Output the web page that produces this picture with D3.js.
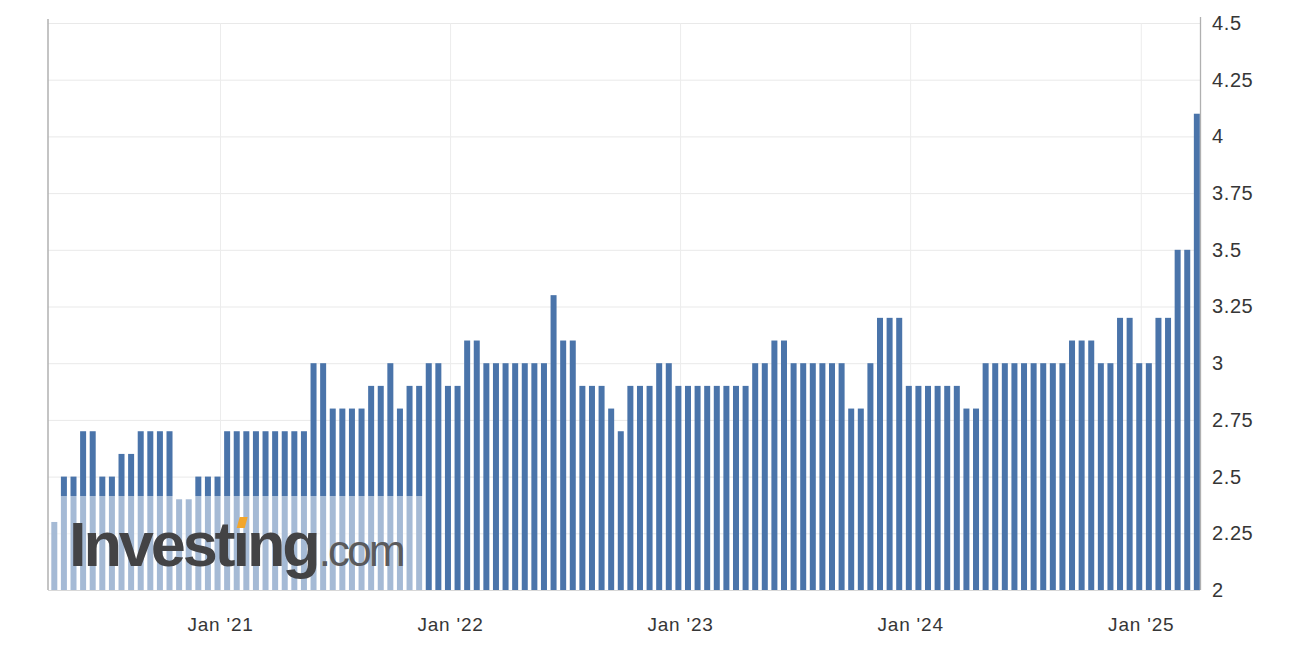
<!DOCTYPE html>
<html>
<head>
<meta charset="utf-8">
<script src="https://cdn.jsdelivr.net/npm/d3@7"></script>
<style>
  html, body { margin: 0; padding: 0; background: #ffffff; }
  svg { display: block; }
</style>
</head>
<body>
<svg id="chart" width="1312" height="650"></svg>
<script>
// ---- data ----
// half-monthly readings, first one mid-April 2020, last one end of March 2025
const firstDate = "2020-04-13";
const lastDate = "2025-03-31";
const values = [
  2.3, 2.5, 2.5, 2.7, 2.7, 2.5, 2.5, 2.6, 2.6, 2.7,
  2.7, 2.7, 2.7, 2.4, 2.4, 2.5, 2.5, 2.5, 2.7, 2.7,
  2.7, 2.7, 2.7, 2.7, 2.7, 2.7, 2.7, 3.0, 3.0, 2.8,
  2.8, 2.8, 2.8, 2.9, 2.9, 3.0, 2.8, 2.9, 2.9, 3.0,
  3.0, 2.9, 2.9, 3.1, 3.1, 3.0, 3.0, 3.0, 3.0, 3.0,
  3.0, 3.0, 3.3, 3.1, 3.1, 2.9, 2.9, 2.9, 2.8, 2.7,
  2.9, 2.9, 2.9, 3.0, 3.0, 2.9, 2.9, 2.9, 2.9, 2.9,
  2.9, 2.9, 2.9, 3.0, 3.0, 3.1, 3.1, 3.0, 3.0, 3.0,
  3.0, 3.0, 3.0, 2.8, 2.8, 3.0, 3.2, 3.2, 3.2, 2.9,
  2.9, 2.9, 2.9, 2.9, 2.9, 2.8, 2.8, 3.0, 3.0, 3.0,
  3.0, 3.0, 3.0, 3.0, 3.0, 3.0, 3.1, 3.1, 3.1, 3.0,
  3.0, 3.2, 3.2, 3.0, 3.0, 3.2, 3.2, 3.5, 3.5, 4.1
];
const xTickDates = ["2021-01-01", "2022-01-01", "2023-01-01", "2024-01-01", "2025-01-01"];
const xTickLabels = ["Jan '21", "Jan '22", "Jan '23", "Jan '24", "Jan '25"];
const yTicks = [2, 2.25, 2.5, 2.75, 3, 3.25, 3.5, 3.75, 4, 4.25, 4.5];
const yTickLabels = ["2", "2.25", "2.5", "2.75", "3", "3.25", "3.5", "3.75", "4", "4.25", "4.5"];
const xDomain = ["2020-04-03", "2025-04-05"];

// ---- layout ----
const parse = d3.utcParse("%Y-%m-%d");
const plot = { left: 48, right: 1200, top: 23, bottom: 590 };
const barColor = "#4a74aa";

const t0 = parse(firstDate).getTime(), t1 = parse(lastDate).getTime();
const data = values.map((v, i) => ({
  date: new Date(t0 + (t1 - t0) * i / (values.length - 1)),
  value: v
}));

const x = d3.scaleUtc()
  .domain(xDomain.map(parse))
  .range([plot.left, plot.right]);
const y = d3.scaleLinear()
  .domain([2, 4.5])
  .range([plot.bottom, plot.top]);

const svg = d3.select("#chart");
const font = "Liberation Sans, Arial, Helvetica, sans-serif";

// horizontal grid
svg.append("g")
  .attr("transform", `translate(${plot.left},0)`)
  .call(d3.axisLeft(y).tickValues(yTicks).tickSize(-(plot.right - plot.left)).tickFormat(""))
  .call(g => g.select(".domain").remove())
  .call(g => g.selectAll("line").attr("stroke", "#e9e9e9").attr("stroke-width", 1));

// vertical grid
svg.append("g")
  .attr("transform", `translate(0,${plot.bottom})`)
  .call(d3.axisBottom(x).tickValues(xTickDates.map(parse)).tickSize(-(plot.bottom - plot.top)).tickFormat(""))
  .call(g => g.select(".domain").remove())
  .call(g => g.selectAll("line").attr("stroke", "#ececec").attr("stroke-width", 1));

// bars
const barW = 6;
svg.append("g")
  .selectAll("rect")
  .data(data)
  .join("rect")
  .attr("x", d => x(d.date) - barW / 2)
  .attr("y", d => y(d.value))
  .attr("width", barW)
  .attr("height", d => y(2) - y(d.value))
  .attr("fill", barColor);

// watermark panel
const wm = svg.append("g");
wm.append("rect")
  .attr("x", plot.left)
  .attr("y", 496)
  .attr("width", 424 - plot.left)
  .attr("height", plot.bottom - 496)
  .attr("fill", "#ffffff")
  .attr("fill-opacity", 0.5);

const logo = wm.append("text")
  .attr("x", 69)
  .attr("y", 566)
  .attr("font-family", font)
  .attr("font-weight", "bold")
  .attr("font-size", 63)
  .attr("letter-spacing", -3.1)
  .attr("fill", "#434345");
logo.append("tspan").text("Invest\u0131ng");
logo.append("tspan")
  .attr("font-weight", "normal")
  .attr("font-size", 44)
  .attr("letter-spacing", -2.8)
  .attr("fill", "#5a5a5c")
  .attr("dx", 1)
  .text(".com");
// orange tittle on the "i"
try {
  const node = logo.node();
  const ext = node.getExtentOfChar(6);
  const cx = ext.x + ext.width / 2;
  wm.append("path")
    .attr("d", `M${cx - 3},528 L${cx + 5},528 L${cx + 8},517 L${cx},517 Z`)
    .attr("fill", "#f2a62c");
} catch (e) {}

// border lines
svg.append("line")
  .attr("x1", plot.left).attr("x2", plot.left)
  .attr("y1", plot.top - 4).attr("y2", plot.bottom)
  .attr("stroke", "#b0b0b0").attr("stroke-width", 1.5);
svg.append("line")
  .attr("x1", plot.right + 0.5).attr("x2", plot.right + 0.5)
  .attr("y1", plot.top - 6).attr("y2", plot.bottom)
  .attr("stroke", "#b0b0b0").attr("stroke-width", 1.3);
svg.append("line")
  .attr("x1", plot.left).attr("x2", plot.right)
  .attr("y1", plot.bottom + 0.5).attr("y2", plot.bottom + 0.5)
  .attr("stroke", "#d8d8d8").attr("stroke-width", 1);

// right y axis labels
svg.append("g")
  .attr("transform", `translate(${plot.right},0)`)
  .call(d3.axisRight(y).tickValues(yTicks).tickSize(0).tickPadding(12)
    .tickFormat((d, i) => yTickLabels[i]))
  .call(g => g.select(".domain").remove())
  .call(g => g.selectAll("text")
    .attr("font-family", font)
    .attr("font-size", 20)
    .attr("letter-spacing", 0.6)
    .attr("fill", "#363636"));

// bottom x axis labels
svg.append("g")
  .attr("transform", `translate(0,${plot.bottom})`)
  .call(d3.axisBottom(x).tickValues(xTickDates.map(parse)).tickSize(0).tickPadding(28)
    .tickFormat((d, i) => xTickLabels[i]))
  .call(g => g.select(".domain").remove())
  .call(g => g.selectAll("text")
    .attr("font-family", font)
    .attr("font-size", 19)
    .attr("letter-spacing", 0.8)
    .attr("fill", "#363636"));
</script>
</body>
</html>
